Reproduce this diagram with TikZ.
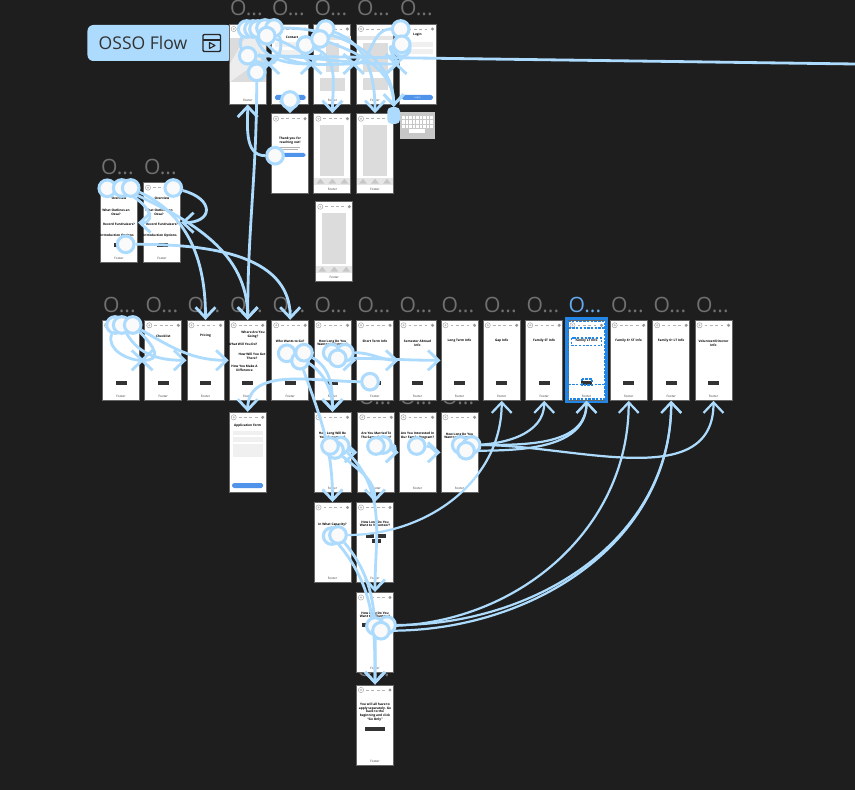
\documentclass[tikz,border=0pt]{standalone}
\usepackage{fontspec}
\setmainfont{Open Sans}
\usetikzlibrary{arrows.meta}
\definecolor{bgdark}{HTML}{1E1E1E}
\definecolor{linkblue}{HTML}{ACDBFD}
\definecolor{selblue}{HTML}{2286E6}
\definecolor{btnblue}{HTML}{4F94EA}
\definecolor{labelgray}{HTML}{707070}
\definecolor{fieldgray}{HTML}{DCDCDC}
\pgfdeclarelayer{hotlayer}
\pgfsetlayers{main,hotlayer}
\tikzset{
  screen/.style={draw=black!60, line width=0.8pt, fill=white, minimum width=1.11cm, minimum height=2.4cm, inner sep=0pt},
  framelabel/.style={anchor=west, inner sep=0pt, text=labelgray, font=\fontsize{18}{18}\selectfont},
  sctitle/.style={inner sep=0pt, align=center, font=\fontsize{2.7}{3.2}\selectfont\bfseries},
  scfoot/.style={inner sep=0pt, font=\fontsize{2.6}{3}\selectfont, text=black!80},
  scbtn/.style={fill=black!80, minimum width=0.33cm, minimum height=0.12cm, inner sep=0pt},
  bluebtn/.style={fill=btnblue, rounded corners=1.5pt, inner sep=0pt, minimum height=0.15cm},
  hot/.style={circle, draw=linkblue, fill=white!98!black, line width=2.6pt, minimum size=0.5cm, inner sep=0pt},
  conn/.style={draw=linkblue, line width=2.4pt, -{Straight Barb[length=9pt,width=17pt]}},
  farconn/.style={conn, line width=1.9pt},
  seldash/.style={draw=selblue, line width=1pt, dash pattern=on 2pt off 1.2pt},
}
\begin{document}
\begin{tikzpicture}[x=0.03cm,y=0.03cm]
    \useasboundingbox (0,0) rectangle (855,-790);
    \fill[bgdark] (0,0) rectangle (855,-790);

    % frame labels, the lower ones end up behind the screens
    \foreach \name/\cx/\cy in {s1/230/-8.5, s2/272/-8.5, s3/314.5/-8.5, s4/357/-8.5, s5/400/-8.5,
        l1/101/-167, l2/144/-167, m1/103/-305, m2/145.5/-305, m3/187.5/-305, m4/230/-305, m5/272.5/-305,
        m6/314.5/-305, m7/357.5/-305, m8/399.5/-305, m9/441.5/-305, m10/484/-305, m11/526.5/-305,
        m13/611/-305, m14/653.5/-305, m15/696/-305, r3/358.5/-397, r4/399.5/-397, r5/441.5/-397, f5/357/-669}
        \node[framelabel] (\name-label) at (\cx,\cy) {O...};
    \node[framelabel, text=selblue!70!white] (m12-label) at (568.5,-305) {O...};

    % the flow tag
    \node[fill=linkblue, rounded corners=5pt, minimum width=4.35cm, minimum height=1.08cm] (flowtag) at (160,-43) {};
    \node[inner sep=0pt, text=black!80, font=\fontsize{15}{15}\selectfont] (flowname) at (143,-42.5) {OSSO Flow};
    \draw[black!85, line width=1.2pt, rounded corners=1pt] (203,-34.5) rectangle (220.5,-51.5);
    \draw[black!85, line width=1.1pt] (203,-40) -- (220.5,-40);
    \draw[black!85, line width=0.9pt, line join=round] (209.5,-42.5) -- (215,-45.5) -- (209.5,-48.5) -- cycle;

    % screens
    \foreach \name/\cx/\cy in {s1/247.7/-64, s2/290/-64, s3/332.4/-64, s4/375/-64, s5/417.5/-64,
        t2/290/-153.7, t3/332.4/-153.7, t4/375/-153.7, u3/334.3/-241.7,
        l1/119/-222.7, l2/162/-222.7,
        m1/121/-360.3, m2/163.3/-360.3, m3/205.5/-360.3, m4/247.7/-360.3, m5/290.2/-360.3,
        m6/332.5/-360.3, m7/375/-360.3, m8/417.5/-360.3, m9/459.5/-360.3, m10/501.7/-360.3,
        m11/544.2/-360.3, m12/586.5/-360.3, m13/628.7/-360.3, m14/671.2/-360.3, m15/713.5/-360.3,
        form/247.7/-452.3, r2/332.5/-452.3, r3/376.3/-452.3, r4/417.5/-452.3, r5/459.5/-452.3,
        q1/332.5/-542.5, q2/375/-542.5, f4/375/-632.5, f5/375/-725} {
        \node[screen] (\name) at (\cx,\cy) {};
        \begin{scope}[shift={(\name.center)}]
            \draw[black!40, line width=0.35pt] (-14,35) circle (2.6);
            \fill[black!25] (-14,35) circle (1.1);
            \draw[black!30, line width=0.7pt, dash pattern=on 2.4pt off 2.2pt] (-9,35) -- (11,35);
            \fill[black!40] (15,35) circle (1.7);
        \end{scope}
    }

    % footers and dark buttons
    \foreach \name in {s1,s3,s4,t3,t4,u3,l1,l2,m1,m2,m3,m4,m5,m6,m7,m8,m9,m10,m11,m12,m13,m14,m15,r2,r3,r4,r5,q1,q2,f4,f5}
        \node[scfoot] (\name-foot) at ([yshift=0.135cm]\name.south) {Footer};
    \foreach \name in {l1,l2,m1,m2,m3,m4,m5,m6,m7,m8,m9,m10,m11,m12,m13,m14,m15}
        \node[scbtn] (\name-btn) at ([yshift=0.54cm]\name.south) {};
    \foreach \name/\cx/\cy in {q2a/370/-535.7, q2b/381.7/-535.7, q2c/376.7/-540.7, f4a/366.7/-625}
        \node[scbtn, minimum width=0.26cm] (\name) at (\cx,\cy) {};
    \node[scbtn, minimum width=0.6cm] (f5-btn) at (375,-729) {};

    % titles
    \foreach \name/\cx/\cy/\ttl in {m2t/163.3/-336/Checklist, m3t/205.5/-336/Pricing, m5t/290.2/-341/Who Wants to Go?,
        m4a/253/-335/{Where Are You\\Going?}, m4b/243/-344/What Will You Do?, m4c/252/-356/{How Will You Get\\There?},
        m4d/244.5/-368/{How You Make A\\Difference},
        m6t/332.5/-343/{How Long Do You\\Want to Volunteer?}, m7t/375/-341/Short Term Info, m8t/417.5/-343/{Semester Abroad\\Info},
        m9t/459.5/-341/Long Term Info, m10t/501.7/-341/Gap Info, m11t/544.2/-341/Family ST Info, m12t/586.5/-341/Family LT Info,
        m13t/628.7/-341/Family 6+ ST Info, m14t/671.2/-341/Family 6+ LT Info, m15t/713.5/-343/{Volunteer/Director\\Info},
        formt/247.7/-425.7/Application Form, r2t/332.5/-436/{How Long Will Be\\Your Departure?},
        r3t/376.3/-436/{Are You Married To\\The Same Country?}, r4t/417.5/-436/{Are You Interested In\\Our Family Program?},
        r5t/459.5/-436/{How Long Do You\\Want to Volunteer?}, q1t/332.5/-524.5/In What Capacity?,
        q2t/375/-524/{How Long Do You\\Want to Volunteer?}, f4t/375/-615/{How Long Do You\\Want to Volunteer?},
        f5t/375/-712/{You will all have to\\apply separately. Go\\back to the\\beginning and click\\``Go Only''},
        l1a/119/-198/Overview, l2a/162/-198/Overview, l1b/116/-212/{What Outlines an\\Ossa?}, l2b/159/-212/{What Outlines an\\Ossa?},
        l1c/119/-224.5/Record Fundraisers?, l2c/162/-224.5/Record Fundraisers?, l1d/117/-236/Introduction Options, l2d/160/-236/Introduction Options,
        s2t/292/-37/Contact, s5t/417.5/-35/Login, t2t/290/-140.5/{Thank you for\\reaching out!}}
        \node[sctitle] (\name) at (\cx,\cy) {\ttl};

    % top row contents
    \fill[fieldgray] (229.8,-38) rectangle (265.6,-82);
    \fill[black!7] (245,-38) -- (265.6,-38) -- (265.6,-56) -- (230,-82) -- (229.8,-64) -- cycle;
    \foreach \cx in {314.5,357}
        \fill[black!10] (\cx,-36) rectangle +(36,-4.5);
    \fill[fieldgray] (326,-43) rectangle (339,-72);
    \fill[fieldgray] (320,-78) rectangle (345,-91);
    \fill[fieldgray] (362.5,-43) rectangle (387.5,-72);
    \fill[fieldgray] (362.5,-78) rectangle (387.5,-90);
    \foreach \cy in {-42,-50}
        \fill[black!6] (275,\cy) rectangle +(29,-5);
    \foreach \cy in {-42,-49}
        \fill[black!6] (402,\cy) rectangle +(31,-5.5);
    \node[bluebtn, minimum width=0.92cm] (s2-btn) at (290.3,-97.5) {};
    \node[bluebtn, minimum width=0.92cm, text=white, font=\fontsize{2}{2}\selectfont] (s5-btn) at (417.5,-97.5) {Login};
    \fill[black!30] (280,-147) rectangle (300,-148);
    \fill[black!30] (282,-149.5) rectangle (298,-150.5);
    \node[bluebtn, minimum width=0.7cm, minimum height=0.12cm] (t2-btn) at (294,-155) {};

    % product screens
    \foreach \name/\cx/\cy in {t3/332.4/-153.7, t4/375/-153.7, u3/334.3/-241.7} {
        \fill[fieldgray] (\cx-12,\cy+28.5) rectangle (\cx+12,\cy-22);
        \fill[black!10] (\cx-18,\cy-24) rectangle (\cx+18,\cy-31);
        \foreach \k in {-12,0,12}
            \fill[black!22] (\cx+\k-4,\cy-30) -- (\cx+\k,\cy-25) -- (\cx+\k+4,\cy-30) -- cycle;
    }

    % application form
    \foreach \cy/\hgt in {-431/4, -437/5, -443.5/13.5}
        \fill[black!6] (232.7,\cy) rectangle +(30.4,-\hgt);
    \node[bluebtn, minimum width=0.93cm] (form-btn) at (247.7,-485.5) {};

    % keyboard
    \node[fill=black!22, minimum width=1.05cm, minimum height=0.81cm, inner sep=0pt] (keys) at (417.5,-125.8) {};
    \foreach \cy in {-116,-120.5,-125} {
        \foreach \k in {0,...,8}
            \fill[white] (402+\k*3.5,\cy) rectangle +(2.7,-3.4);
    }
    \fill[white] (409,-129.5) rectangle (425,-133);

    % selected screen
    \draw[selblue, line width=2.4pt] (566.4,-318.6) rectangle (606.6,-402);
    \draw[seldash] (568.5,-321.5) rectangle (604.5,-399);
    \draw[seldash] (568.5,-328) -- (604.5,-328);
    \draw[seldash] (568.5,-384.7) -- (604.5,-384.7);
    \draw[seldash] (571.5,-338) rectangle (601.5,-345.7);
    \draw[seldash] (582,-379) rectangle (592,-385);

    % hotspots go on top of every line
    \begin{pgfonlayer}{hotlayer}
        \node[fill=linkblue, rounded corners=3.5pt, minimum width=0.38cm, minimum height=0.5cm, inner sep=0pt] (blob) at (393.7,-115.5) {};
        \foreach \name/\cx/\cy in {ha/246.7/-29, hb/253/-29, hc/258/-29, hd/265/-28, he/274/-28, hf/266.7/-35.7,
            hg/305.7/-45, hh/325.7/-29, hi/320/-39, hk/400.7/-29, hm/401.7/-48, hl/401.7/-44.3, hn/247.7/-55.7,
            ho/256.7/-72.3, hp/290/-100, hq/275/-155.7,
            la/107.3/-188.3, lb/121.7/-188, lc/130.7/-188, ld/173.3/-188, le/125.7/-244.3,
            ma/115/-325, mb/121.7/-325, mc/132.7/-325, md/286.7/-353.3, mf/300/-360.7, me/304/-352.7,
            mg/331.7/-352.7, mh/345/-352.7, mi/337.7/-358.3, mj/370/-381.7,
            rc/340.7/-445.7, rb/335/-450, ra/330/-446, re/383/-445, rd/376/-446, rf/416.7/-446,
            rg/460.7/-445, rh/471.7/-445, ri/466/-450.7, qa/331.7/-536, qb/338/-535,
            fb/387/-625, fa/375/-626, fc/381/-630.7}
            \node[hot] (\name) at (\cx,\cy) {};
    \end{pgfonlayer}

    % links
    \coordinate (offright) at (855,-64);
    \foreach \from/\goal/\o/\i in {ha/s2.west/-120/180, hb/s3.west/-70/180, hc/s4.west/-60/180, hd/s1.east/-20/0,
        he/blob.north/0/90, hf/s2.east/-20/0, hg/t3.north/-20/90, hh/t4.north/-20/90, hi/blob.north/-20/90,
        hk/s3.east/180/0, hl/s4.east/190/0, hm/s5.west/-150/180, hn/s5.west/0/180, ho/m4.north/-90/90, hp/t2.north/-90/90, hq/s1.south/180/-90,
        lc/m3.north/-25/90, lb/m4.north/-25/90, le/m5.north/0/90,
        ma/m2.west/-110/180, mb/m3.west/-60/180, mc/m4.west/-30/180,
        md/r2.north/-20/90, me/r2.north/-30/90, mf/q1.north/-70/90,
        mg/m7.west/0/180, mh/m8.west/0/180, mi/m9.west/0/180, mj/form.north/180/90,
        ra/r3.west/0/180, rb/q2.north/-40/90, rc/f4.north/-45/90, rd/r4.west/0/180, re/r4.west/0/180, rf/r5.west/0/180,
        qb/f5.north/-50/90, qa/f5.north/-50/90}
        \draw[conn] (\from) to[out=\o,in=\i] (\goal);
    \foreach \from/\goal in {rg/m11.south, rh/m15.south, rh/m12.south, ri/m12.south,
        qb/m10.south, fa/m13.south, fb/m14.south, fc/m14.south}
        \draw[farconn] (\from) to[out=0,in=-90] (\goal);
    \draw[conn] (la) to[out=-10,in=0,looseness=1.6] (l1.east);
    \draw[conn] (ld) to[out=-15,in=0,looseness=2.6] (l2.east);
    \draw[conn] (mc) to[out=-45,in=0,looseness=2] (m1.east);
    \draw[draw=linkblue, line width=2.4pt] (hn) -- (offright);
\end{tikzpicture}
\end{document}
